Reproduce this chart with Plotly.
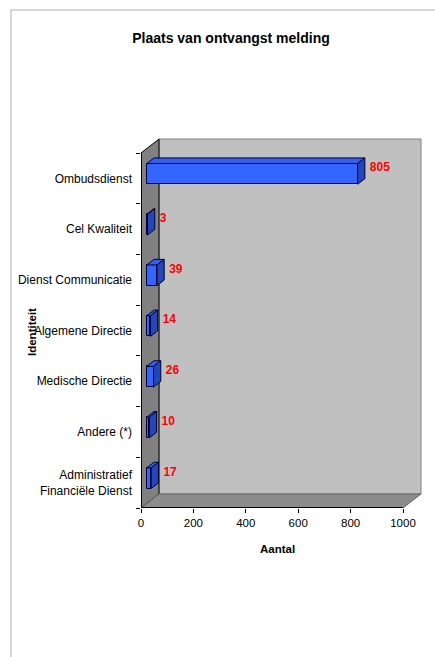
import plotly.graph_objects as go

# ---- data ----
categories = ["Ombudsdienst", "Cel Kwaliteit", "Dienst Communicatie", "Algemene Directie",
              "Medische Directie", "Andere (*)", "Administratief<br>Financiële Dienst"]
values = [805, 3, 39, 14, 26, 10, 17]
x_ticks = [0, 200, 400, 600, 800, 1000]

# ---- layout geometry (pixels) ----
W, H = 435, 657
L, RF = 141, 403          # front axis: 0 and 1000
TOPF, BOT = 153, 508      # front plot top/bottom
DX, DY = 18, 14           # 3D depth of box
PAD = 2
N = len(categories)
XMAX = 1000

ux = (RF - L) / XMAX              # px per x unit
uy = (BOT - TOPF) / N             # px per category
ddx, ddy = DX / ux, DY / uy
padx, pady = PAD / ux, PAD / uy

f0, fb = 0.32, 0.40               # bar front offset / bar depth (fraction of box depth)
bh = 20.7 / uy                    # bar thickness in category units
label_gap = 5 / ux                # gap between bar and its value label

pos = [N - 1 - i for i in range(N)]

FONT = "Liberation Sans, Arial, sans-serif"

fig = go.Figure()

# front faces of bars
fig.add_trace(go.Bar(
    orientation="h",
    x=values,
    y=[p + f0 * ddy for p in pos],
    base=f0 * ddx,
    width=bh,
    marker=dict(color="#3366FF", line=dict(color="#000033", width=1)),
    hoverinfo="skip",
    showlegend=False,
))

# value labels
fig.add_trace(go.Scatter(
    x=[v + (f0 + fb) * ddx + label_gap for v in values],
    y=[p + (f0 + fb) * ddy for p in pos],
    mode="text",
    text=[str(v) for v in values],
    textposition="middle right",
    textfont=dict(family=FONT, size=12, color="#FF0000", weight="bold"),
    hoverinfo="skip",
    showlegend=False,
    cliponaxis=False,
))

shapes = []
y_lo, y_hi = -0.5, N - 0.5
# back wall
shapes.append(dict(type="rect", xref="x", yref="y", x0=ddx, x1=XMAX + ddx, y0=y_lo + ddy, y1=y_hi + ddy,
                   fillcolor="#C0C0C0", line=dict(color="#808080", width=1), layer="below"))
# side wall
shapes.append(dict(type="path", xref="x", yref="y",
                   path=f"M 0,{y_lo} L 0,{y_hi} L {ddx},{y_hi + ddy} L {ddx},{y_lo + ddy} Z",
                   fillcolor="#808080", line=dict(color="#000000", width=1), layer="below"))
# floor
shapes.append(dict(type="path", xref="x", yref="y",
                   path=f"M 0,{y_lo} L {XMAX},{y_lo} L {XMAX + ddx},{y_lo + ddy} L {ddx},{y_lo + ddy} Z",
                   fillcolor="#8C8C8C", line=dict(color="#666666", width=1), layer="below"))
# front edges (axes)
shapes.append(dict(type="line", xref="x", yref="y", x0=0, x1=0, y0=y_lo, y1=y_hi,
                   line=dict(color="#000000", width=2), layer="above"))
shapes.append(dict(type="line", xref="x", yref="y", x0=0, x1=XMAX, y0=y_lo, y1=y_lo,
                   line=dict(color="#000000", width=2), layer="above"))

# bar top and side faces
for v, p in zip(values, pos):
    x0 = f0 * ddx
    x1 = v + f0 * ddx
    yc = p + f0 * ddy
    yt, yb = yc + bh / 2, yc - bh / 2
    ox, oy = fb * ddx, fb * ddy
    shapes.append(dict(type="path", xref="x", yref="y",
                       path=f"M {x0},{yt} L {x1},{yt} L {x1 + ox},{yt + oy} L {x0 + ox},{yt + oy} Z",
                       fillcolor="#3060EE", line=dict(color="#000033", width=1), layer="above"))
    shapes.append(dict(type="path", xref="x", yref="y",
                       path=f"M {x1},{yt} L {x1 + ox},{yt + oy} L {x1 + ox},{yb + oy} L {x1},{yb} Z",
                       fillcolor="#2447B8", line=dict(color="#000033", width=1), layer="above"))

# page frame lines (paper coords)
plot_w = (RF + DX + PAD) - L
plot_h = BOT - (TOPF - DY - PAD)
def px_to_paper_x(px):
    return (px - L) / plot_w
def px_to_paper_y(py):
    return (BOT - py) / plot_h
shapes.append(dict(type="line", xref="paper", yref="paper",
                   x0=px_to_paper_x(11), x1=px_to_paper_x(11),
                   y0=px_to_paper_y(10), y1=px_to_paper_y(H + 2),
                   line=dict(color="#C8C8C8", width=1.5)))
shapes.append(dict(type="line", xref="paper", yref="paper",
                   x0=px_to_paper_x(10.3), x1=px_to_paper_x(W + 2),
                   y0=px_to_paper_y(10), y1=px_to_paper_y(10),
                   line=dict(color="#C8C8C8", width=1.5)))

fig.update_layout(
    width=W, height=H,
    margin=dict(l=L, r=W - (RF + DX + PAD), t=TOPF - DY - PAD, b=H - BOT, autoexpand=False),
    paper_bgcolor="white", plot_bgcolor="white",
    showlegend=False,
    bargap=0,
    title=dict(text="<b>Plaats van ontvangst melding</b>", x=231 / W, xanchor="center",
               y=1 - 38 / H, yanchor="middle", yref="container",
               font=dict(family=FONT, size=14, color="black")),
    xaxis=dict(range=[0, XMAX + ddx + padx], tickvals=x_ticks, ticktext=[str(t) for t in x_ticks],
               ticks="outside", ticklen=4, tickcolor="black", tickwidth=1,
               showgrid=False, zeroline=False, showline=False, automargin=False,
               tickfont=dict(family=FONT, size=11.5, color="black")),
    yaxis=dict(range=[y_lo, y_hi + ddy + pady], tickvals=pos, ticktext=categories,
               ticks="", ticklabelstandoff=8,
               minor=dict(tickvals=[k - 0.5 for k in range(N + 1)], ticks="outside", ticklen=4,
                          tickcolor="black", tickwidth=1, showgrid=False),
               showgrid=False, zeroline=False, showline=False, automargin=False,
               tickfont=dict(family=FONT, size=12, color="black")),
    shapes=shapes,
    annotations=[
        dict(text="<b>Aantal</b>", xref="paper", yref="paper",
             x=px_to_paper_x(277), y=px_to_paper_y(549), xanchor="center", yanchor="middle",
             showarrow=False, font=dict(family=FONT, size=11.5, color="black")),
        dict(text="<b>Identiteit</b>", xref="paper", yref="paper",
             x=px_to_paper_x(32), y=px_to_paper_y(332), xanchor="center", yanchor="middle",
             textangle=-90, showarrow=False, font=dict(family=FONT, size=11.5, color="black")),
    ],
)

fig.write_html("out.html")
